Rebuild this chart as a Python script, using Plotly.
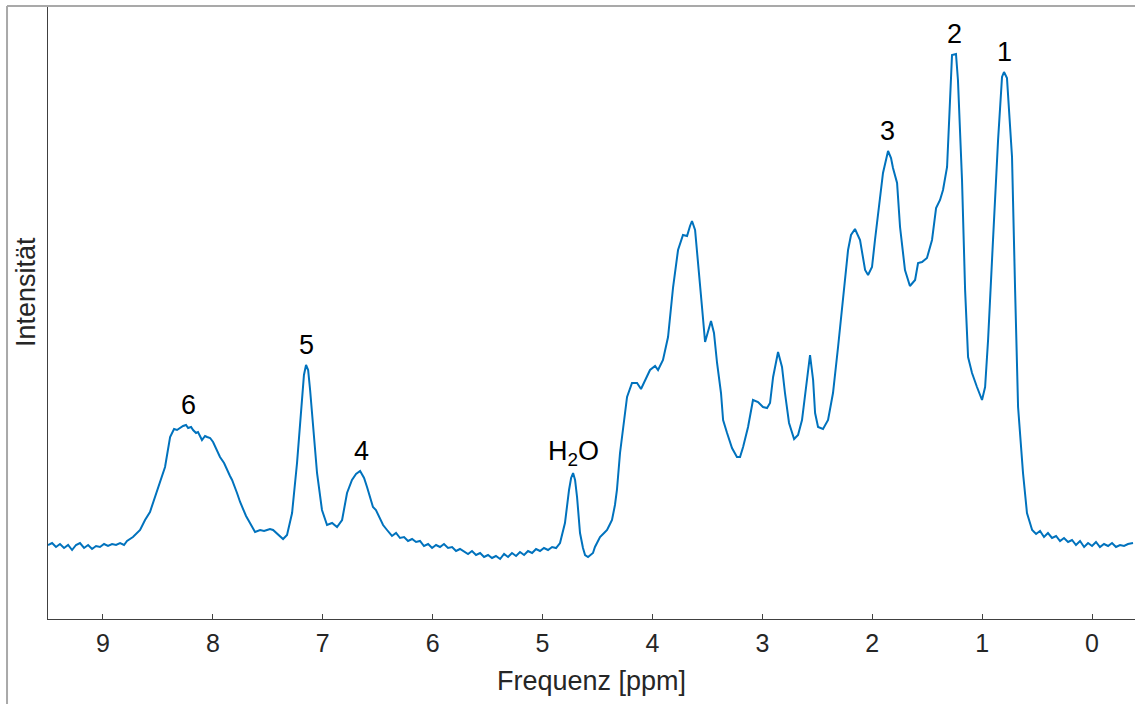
import numpy as np
import plotly.graph_objects as go

# 1H-NMR spectrum: chemical shift (ppm) and intensity (a.u.)
ppm = [
    9.500, 9.463, 9.427, 9.391, 9.354, 9.317, 9.281, 9.245, 9.209, 9.172,
    9.135, 9.099, 9.063, 9.027, 8.990, 8.954, 8.917, 8.881, 8.844, 8.808,
    8.781, 8.727, 8.662, 8.617, 8.572, 8.526, 8.480, 8.435, 8.389, 8.353,
    8.326, 8.299, 8.271, 8.244, 8.225, 8.198, 8.180, 8.153, 8.135, 8.099,
    8.071, 8.052, 8.025, 7.998, 7.962, 7.935, 7.898, 7.871, 7.844, 7.825,
    7.798, 7.780, 7.752, 7.725, 7.698, 7.662, 7.616, 7.570, 7.534, 7.507,
    7.480, 7.452, 7.407, 7.361, 7.325, 7.279, 7.234, 7.189, 7.171, 7.152,
    7.133, 7.115, 7.097, 7.052, 7.007, 6.961, 6.915, 6.870, 6.824, 6.779,
    6.734, 6.697, 6.660, 6.624, 6.597, 6.570, 6.543, 6.516, 6.478, 6.451,
    6.415, 6.370, 6.333, 6.297, 6.260, 6.224, 6.187, 6.151, 6.115, 6.079,
    6.041, 6.005, 5.969, 5.933, 5.897, 5.860, 5.823, 5.787, 5.751, 5.714,
    5.678, 5.642, 5.605, 5.568, 5.532, 5.496, 5.460, 5.424, 5.386, 5.350,
    5.314, 5.278, 5.241, 5.205, 5.168, 5.132, 5.095, 5.059, 5.023, 4.987,
    4.950, 4.913, 4.877, 4.841, 4.796, 4.759, 4.740, 4.722, 4.704, 4.686,
    4.659, 4.632, 4.613, 4.586, 4.568, 4.541, 4.523, 4.495, 4.477, 4.440,
    4.413, 4.386, 4.368, 4.341, 4.323, 4.295, 4.267, 4.231, 4.186, 4.140,
    4.104, 4.067, 4.022, 3.976, 3.949, 3.904, 3.858, 3.812, 3.767, 3.722,
    3.685, 3.658, 3.640, 3.612, 3.585, 3.549, 3.521, 3.494, 3.467, 3.440,
    3.412, 3.376, 3.357, 3.321, 3.276, 3.231, 3.203, 3.175, 3.130, 3.085,
    3.039, 2.994, 2.957, 2.930, 2.902, 2.857, 2.821, 2.794, 2.757, 2.711,
    2.675, 2.639, 2.603, 2.566, 2.538, 2.520, 2.493, 2.448, 2.402, 2.357,
    2.311, 2.265, 2.220, 2.193, 2.157, 2.111, 2.065, 2.038, 2.002, 1.975,
    1.947, 1.902, 1.856, 1.829, 1.811, 1.774, 1.747, 1.702, 1.657, 1.610,
    1.583, 1.547, 1.502, 1.456, 1.419, 1.383, 1.356, 1.319, 1.292, 1.274,
    1.238, 1.220, 1.183, 1.155, 1.128, 1.092, 1.047, 1.001, 0.973, 0.946,
    0.901, 0.855, 0.819, 0.801, 0.774, 0.728, 0.700, 0.673, 0.628, 0.592,
    0.545, 0.509, 0.473, 0.437, 0.401, 0.364, 0.327, 0.291, 0.255, 0.218,
    0.182, 0.146, 0.109, 0.072, 0.036, 0.000, -0.036, -0.072, -0.109, -0.146,
    -0.182, -0.218, -0.255, -0.291, -0.327, -0.373,
]

intensity = [
    74, 76, 72, 75, 71, 74, 69, 74, 76, 71,
    74, 70, 73, 72, 75, 73, 75, 74, 76, 74,
    78, 82, 89, 99, 107, 122, 139, 152, 182, 190,
    189, 191, 193, 194, 191, 192, 189, 186, 187, 179,
    183, 182, 181, 177, 169, 162, 156, 149, 143, 139,
    132, 126, 117, 109, 103, 96, 87, 89, 88, 89,
    90, 89, 85, 80, 84, 106, 156, 219, 244, 254,
    249, 229, 206, 146, 109, 94, 96, 92, 99, 126,
    139, 145, 148, 141, 132, 121, 112, 109, 101, 94,
    89, 83, 86, 81, 82, 78, 80, 77, 78, 73,
    75, 71, 74, 72, 75, 71, 72, 68, 70, 67,
    65, 68, 64, 66, 62, 64, 61, 63, 60, 65,
    62, 66, 63, 67, 64, 68, 66, 70, 68, 71,
    69, 72, 71, 76, 96, 129, 141, 146, 139, 122,
    86, 71, 64, 62, 64, 66, 72, 79, 82, 86,
    89, 95, 99, 114, 129, 166, 192, 222, 236, 236,
    230, 239, 249, 253, 249, 259, 282, 332, 369, 384,
    383, 393, 398, 389, 359, 312, 277, 289, 298, 286,
    256, 226, 199, 186, 171, 162, 162, 172, 192, 219,
    217, 212, 211, 216, 242, 267, 252, 226, 196, 180,
    184, 199, 232, 264, 239, 206, 192, 190, 199, 226,
    272, 322, 369, 384, 390, 379, 349, 344, 352, 379,
    406, 446, 468, 461, 451, 436, 392, 349, 333, 339,
    356, 357, 361, 379, 411, 419, 429, 452, 519, 564,
    565, 539, 439, 329, 262, 246, 232, 219, 232, 279,
    379, 479, 542, 547, 541, 462, 329, 212, 146, 106,
    89, 85, 88, 82, 86, 81, 83, 78, 81, 77,
    79, 74, 78, 72, 76, 73, 77, 72, 75, 73,
    76, 72, 74, 73, 75, 76,
]

# Peak assignments
peak_labels = ["1", "2", "3", "4", "5", "6", "H<sub>2</sub>O"]
peak_ppm = [0.80, 1.256, 1.865, 6.65, 7.15, 8.226, 4.72]

x_ticks = [9, 8, 7, 6, 5, 4, 3, 2, 1, 0]

LINE_BLUE = "#0072BD"
AXIS_GRAY = "#404040"
TEXT_DARK = "#262626"
FONT = "Liberation Sans, Arial, sans-serif"

fig = go.Figure()
fig.add_trace(go.Scatter(
    x=ppm, y=intensity, mode="lines",
    line=dict(color=LINE_BLUE, width=2),
    hoverinfo="skip", showlegend=False,
))

ppm_arr = np.array(ppm)
int_arr = np.array(intensity)
for label, pos in zip(peak_labels, peak_ppm):
    window = np.abs(ppm_arr - pos) <= 0.15
    top = int_arr[window].max()
    fig.add_annotation(
        x=pos, y=top, text=label, showarrow=False,
        xanchor="center", yanchor="middle", yshift=20,
        font=dict(family=FONT, size=27, color="black"),
    )

# Vertical axis title, placed left of the axis line
fig.add_annotation(
    text="Intensität", textangle=-90, showarrow=False,
    xref="paper", yref="paper", x=-0.0202, y=0.5326,
    xanchor="center", yanchor="middle",
    font=dict(family=FONT, size=27, color=TEXT_DARK),
)

# Outer grey frame (left and top edges)
frame = dict(color="#a9a9a9", width=2)
fig.add_shape(type="line", xref="paper", yref="paper",
              x0=-0.0377, x1=-0.0377, y0=-0.2, y1=0.9984, line=frame)
fig.add_shape(type="line", xref="paper", yref="paper",
              x0=-0.0377, x1=1.05, y0=0.9984, y1=0.9984, line=frame)

fig.update_layout(
    width=1135, height=704,
    margin=dict(l=48, r=0, t=5, b=85),
    paper_bgcolor="white", plot_bgcolor="white",
    font=dict(family=FONT, color=TEXT_DARK),
    xaxis=dict(
        range=[9.500, -0.391], tickvals=x_ticks,
        ticks="inside", ticklen=5, tickwidth=1, tickcolor=AXIS_GRAY,
        showline=True, linecolor=AXIS_GRAY, linewidth=1,
        showgrid=False, zeroline=False,
        tickfont=dict(size=25, color=TEXT_DARK), ticklabelstandoff=2,
        title=dict(text="Frequenz [ppm]", font=dict(size=27, color=TEXT_DARK), standoff=15),
    ),
    yaxis=dict(
        range=[0, 614], showticklabels=False, ticks="",
        showline=True, linecolor=AXIS_GRAY, linewidth=1,
        showgrid=False, zeroline=False,
    ),
)

fig.write_html("out.html")
